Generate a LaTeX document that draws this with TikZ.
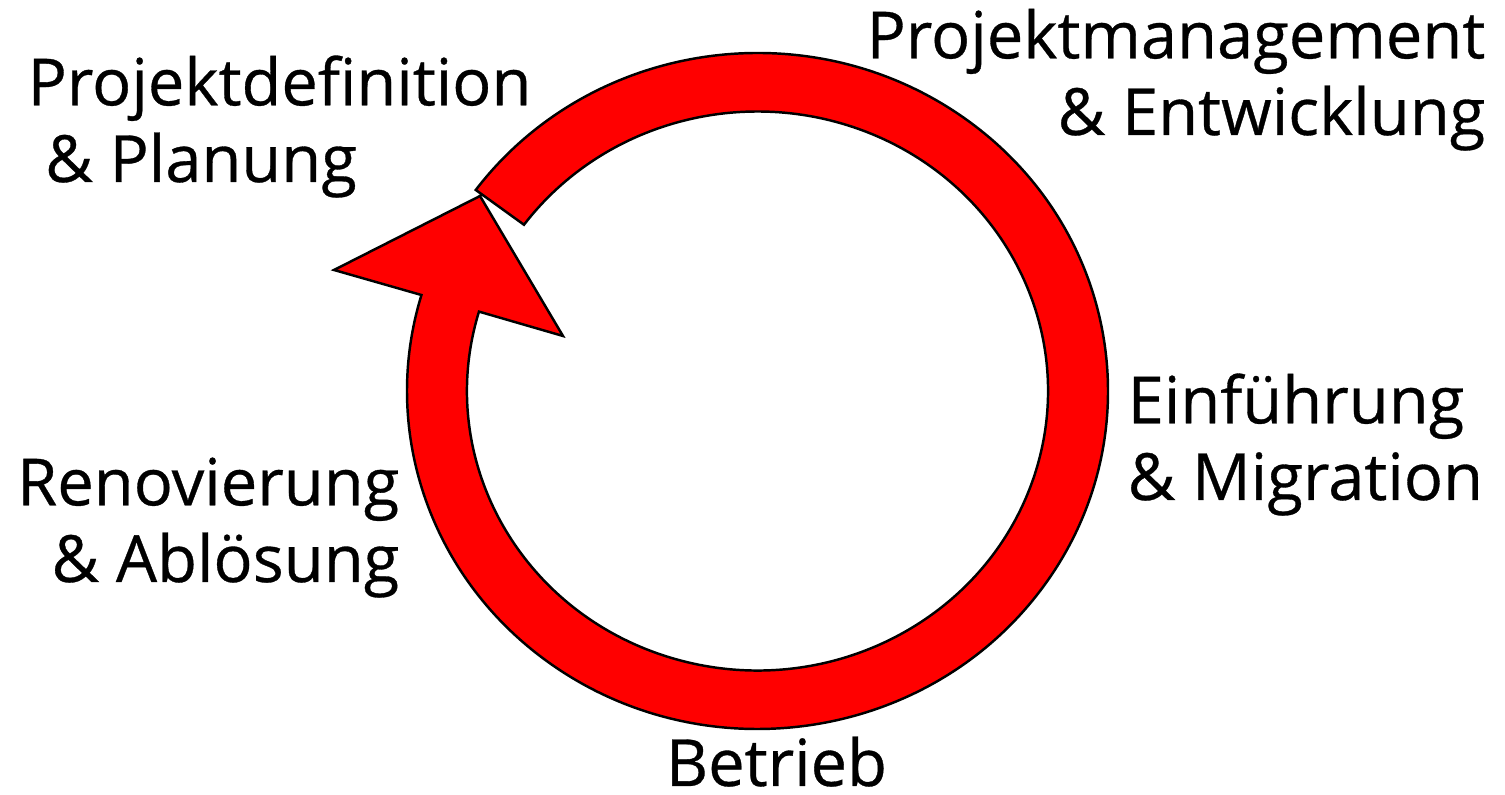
\documentclass[tikz,border=0pt]{standalone}
\usepackage{fontspec}
\setmainfont{Open Sans}
\newfontfamily\lblfont{Open Sans}[FakeBold=0.5]
\usepackage{tikz}

\begin{document}
\begin{tikzpicture}[x=0.01cm, y=-0.01cm,
  lbl/.style={inner sep=0pt, font=\lblfont\fontsize{18.5}{21.8}\selectfont}]
\useasboundingbox (0, 0) rectangle (1505, 795);
% ring with arrow head
\draw[fill = red, line width = 0.7pt, miter limit = 20]
  (757.5, 391) ++(216.5:350.5 and 338)
  arc[start angle = 216.5, end angle = 556.5, x radius = 350.5, y radius = 338]
  -- (334, 270) -- (480, 196) -- (563, 336)
  -- ([shift = {(757.5, 391)}] 196.5:290.5 and 279.5)
  arc[start angle = 556.5, end angle = 216.5, x radius = 290.5, y radius = 279.5]
  -- cycle;
% labels (base anchor = last line)
\node (plan) at (27, 182) [lbl, anchor = base west, align = left]
  {Projektdefinition\\\hspace*{5pt}\& Planung};
\node (dev) at (1486, 135) [lbl, anchor = base east, align = right]
  {Projektmanagement\\\& Entwicklung};
\node (mig) at (1127, 500) [lbl, anchor = base west, align = left]
  {Einführung\\\& Migration};
\node (ren) at (400, 582) [lbl, anchor = base east, align = right]
  {Renovierung\\\& Ablösung};
\node (ops) at (776.5, 786) [lbl, anchor = base] {Betrieb};
\end{tikzpicture}
\end{document}
